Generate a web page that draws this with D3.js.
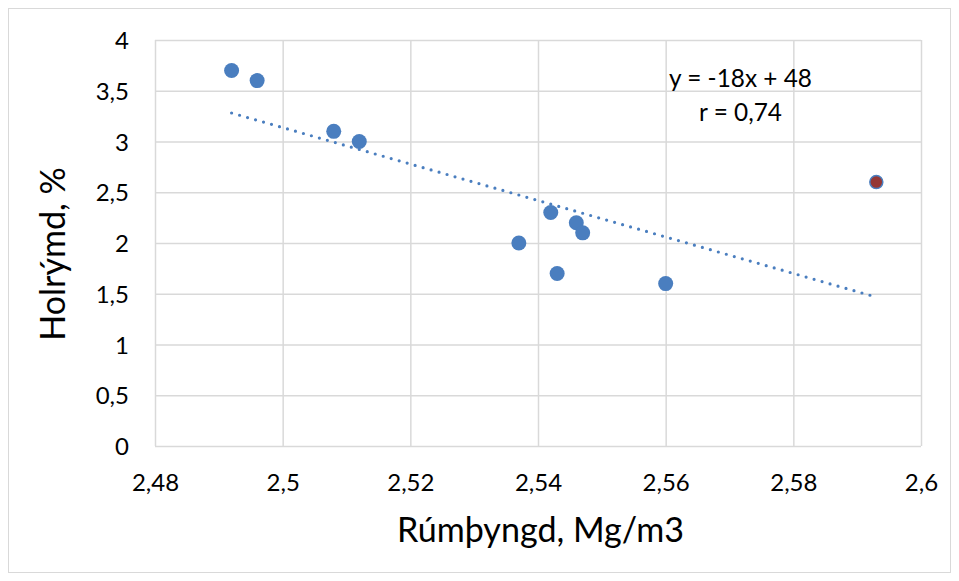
<!DOCTYPE html>
<html><head><meta charset="utf-8">
<script src="https://cdn.jsdelivr.net/npm/d3@7"></script>
<style>
html,body{margin:0;padding:0;background:#fff;}
svg text{font-family:Lato,"Open Sans",sans-serif;fill:#000;}
</style></head>
<body><svg id="c" width="959" height="581"></svg>
<script>
const densityX = [2.492, 2.496, 2.508, 2.512, 2.537, 2.542, 2.543, 2.546, 2.547, 2.560, 2.593];
const voidsY   = [3.7,   3.6,   3.1,   3.0,   2.0,   2.3,   1.7,   2.2,   2.1,   1.6,   2.6];
const highlighted = [false,false,false,false,false,false,false,false,false,false,true];
const trendX = [2.492, 2.592];
const trendY = [3.281, 1.485];
const xTicks = [2.48, 2.50, 2.52, 2.54, 2.56, 2.58, 2.60];
const yTicks = [0, 0.5, 1, 1.5, 2, 2.5, 3, 3.5, 4];
const equationText = ["y = -18x + 48", "r = 0,74"];
const xTitle = "Rúmþyngd, Mg/m3";
const yTitle = "Holrýmd, %";

const svg = d3.select("#c");
const m = {l:155, r:921, t:40, b:446};

svg.append("rect").attr("x",8.5).attr("y",8.5).attr("width",942).attr("height",564)
  .attr("fill","#fff").attr("stroke","#d9d9d9").attr("stroke-width",1);

const x = d3.scaleLinear().domain([2.48, 2.60]).range([m.l, m.r]);
const y = d3.scaleLinear().domain([0, 4]).range([m.b, m.t]);
const fmt = d => String(+d.toFixed(2)).replace(".", ",");

const gx = svg.append("g").attr("transform",`translate(0,${m.b})`)
  .call(d3.axisBottom(x).tickValues(xTicks).tickSize(-(m.b-m.t)).tickFormat(fmt).tickPadding(28));
const gy = svg.append("g").attr("transform",`translate(${m.l},0)`)
  .call(d3.axisLeft(y).tickValues(yTicks).tickSize(-(m.r-m.l)).tickFormat(fmt).tickPadding(26));
[gx, gy].forEach(g => {
  g.select(".domain").remove();
  g.selectAll(".tick line").attr("stroke","#d9d9d9").attr("stroke-width",1.5);
  g.selectAll(".tick text").attr("font-size",24).attr("fill","#000");
});
gy.selectAll(".tick text").attr("dy","0.36em");

function fit(t, target){
  const base = 30;
  t.attr("font-size", base);
  const len = t.node().getComputedTextLength();
  t.attr("font-size", base*target/len);
  return base*target/len;
}

const tx1 = x(trendX[0]), ty1 = y(trendY[0]), tx2 = x(trendX[1]), ty2 = y(trendY[1]);
const tlen = Math.hypot(tx2-tx1, ty2-ty1);
const gap = tlen / Math.round(tlen/8.3);
svg.append("line")
  .attr("x1", tx1).attr("y1", ty1).attr("x2", tx2).attr("y2", ty2)
  .attr("stroke","#4a7ebf").attr("stroke-width",3.2)
  .attr("stroke-linecap","round").attr("stroke-dasharray",`0 ${gap}`);

const pts = densityX.map((d,i)=>({x:d, y:voidsY[i], h:highlighted[i]}));
svg.append("g").selectAll("circle").data(pts).join("circle")
  .attr("cx", d=>x(d.x)).attr("cy", d=>y(d.y))
  .attr("r", d=>d.h?6.5:7.5)
  .attr("fill", d=>d.h?"#953735":"#4a7ebf")
  .attr("stroke", d=>d.h?"#4a7ebf":"none").attr("stroke-width",1.5);

const eq = svg.append("text").attr("x",740.5).attr("y",87).attr("text-anchor","middle").text(equationText[0]);
const es = fit(eq, 143);
svg.append("text").attr("x",740.5).attr("y",121).attr("text-anchor","middle")
  .attr("font-size",es).text(equationText[1]);

const xt = svg.append("text").attr("x",540.5).attr("y",542).attr("text-anchor","middle").text(xTitle);
const ts = fit(xt, 287);
svg.append("text").attr("transform","translate(65,254) rotate(-90)").attr("text-anchor","middle")
  .attr("font-size",ts).text(yTitle);
</script></body></html>
